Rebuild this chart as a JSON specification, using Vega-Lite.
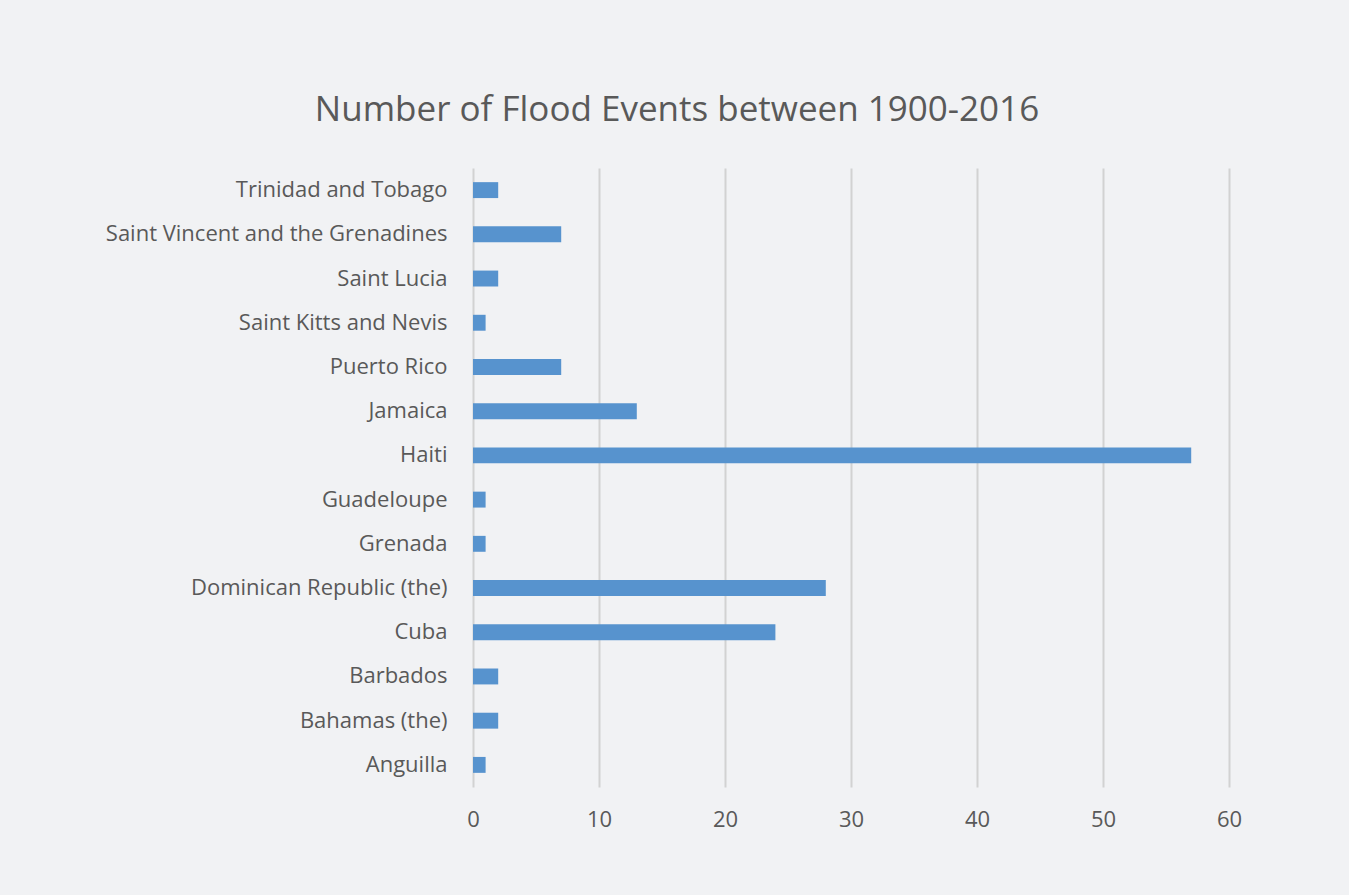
{
  "$schema": "https://vega.github.io/schema/vega-lite/v6.json",
  "width": 756,
  "height": 619,
  "autosize": "none",
  "padding": {"left": 473, "top": 168, "right": 120, "bottom": 108},
  "background": "#f1f2f4",
  "title": {
    "text": "Number of Flood Events between 1900-2016",
    "font": "Open Sans",
    "fontSize": 35,
    "fontWeight": "normal",
    "color": "#595959",
    "anchor": "middle",
    "dx": -174,
    "offset": 40
  },
  "data": {
    "values": [
      {"country": "Trinidad and Tobago", "events": 2},
      {"country": "Saint Vincent and the Grenadines", "events": 7},
      {"country": "Saint Lucia", "events": 2},
      {"country": "Saint Kitts and Nevis", "events": 1},
      {"country": "Puerto Rico", "events": 7},
      {"country": "Jamaica", "events": 13},
      {"country": "Haiti", "events": 57},
      {"country": "Guadeloupe", "events": 1},
      {"country": "Grenada", "events": 1},
      {"country": "Dominican Republic (the)", "events": 28},
      {"country": "Cuba", "events": 24},
      {"country": "Barbados", "events": 2},
      {"country": "Bahamas (the)", "events": 2},
      {"country": "Anguilla", "events": 1}
    ]
  },
  "config": {
    "view": {"stroke": null},
    "axis": {
      "labelFont": "Open Sans",
      "labelFontSize": 22,
      "labelColor": "#595959",
      "labelLimit": 1000,
      "domain": false,
      "ticks": false,
      "title": null
    }
  },
  "mark": {"type": "bar", "color": "#5793ce"},
  "encoding": {
    "y": {
      "field": "country",
      "type": "nominal",
      "sort": ["Trinidad and Tobago", "Saint Vincent and the Grenadines", "Saint Lucia", "Saint Kitts and Nevis", "Puerto Rico", "Jamaica", "Haiti", "Guadeloupe", "Grenada", "Dominican Republic (the)", "Cuba", "Barbados", "Bahamas (the)", "Anguilla"],
      "scale": {"paddingInner": 0.64, "paddingOuter": 0.32},
      "axis": {"labelPadding": 26, "grid": false}
    },
    "x": {
      "field": "events",
      "type": "quantitative",
      "scale": {"domain": [0, 60], "nice": false},
      "axis": {
        "values": [0, 10, 20, 30, 40, 50, 60],
        "grid": true,
        "gridColor": "#d2d2d2",
        "gridWidth": 2,
        "labelPadding": 22,
        "labelFlush": false
      }
    }
  }
}
